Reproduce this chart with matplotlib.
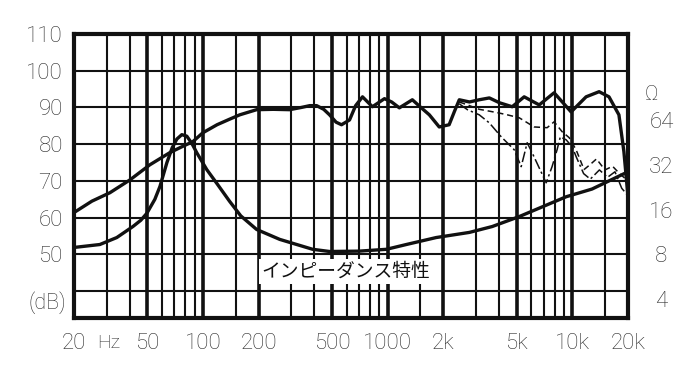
import numpy as np
import matplotlib
matplotlib.use('Agg')
import matplotlib.pyplot as plt
import matplotlib.transforms as mtransforms

# ---- data ----
main_freq = [20, 25, 31.3, 40.2, 51.5, 66, 76.7, 88, 99.6, 119, 139, 158, 195, 240, 294, 340,
             378, 412, 450, 484, 525, 562, 621, 670, 730, 826, 960, 1050, 1156, 1359, 1520,
             1680, 1900, 2150, 2300, 2440, 2770, 3130, 3550, 4020, 4720, 5480, 6610, 7960,
             9840, 11860, 13950, 15780, 17860, 19000, 20000]
main_db = [61.4, 64.5, 66.8, 70.3, 74.4, 77.7, 79.3, 80.7, 83.1, 85.3, 86.8, 88.0, 89.4, 89.5,
           89.4, 90.0, 90.5, 90.5, 89.5, 88.0, 86.0, 85.3, 86.6, 90.5, 92.9, 90.2, 92.4, 91.5,
           89.9, 92.1, 89.9, 88.0, 84.7, 85.3, 89.0, 92.1, 91.5, 92.1, 92.6, 91.3, 90.2, 92.9,
           90.7, 94.0, 88.8, 92.9, 94.3, 92.9, 88.0, 78.0, 65.7]

imp_freq = [20, 27.6, 34.1, 41.7, 46, 49.6, 54.8, 58.4, 63.7, 68, 72.1, 76.7, 81.6, 87, 92.4,
            104.7, 120, 139, 160, 195, 260, 392, 484, 700, 984, 1260, 1830, 2770, 3680, 5150,
            9250, 12770, 20000]
imp_db = [51.9, 52.7, 54.6, 57.6, 59.3, 61.2, 65.0, 68.5, 75.0, 79.0, 81.4, 82.6, 82.2, 80.2,
          77.7, 73.1, 69.0, 64.5, 60.5, 56.8, 54.1, 51.4, 50.8, 50.9, 51.4, 52.7, 54.6, 56.0,
          57.6, 60.3, 65.7, 67.8, 72.5]

off1_freq = [2440, 2770, 3130, 3550, 4000, 4440, 5150, 6210, 7300, 7960, 8800, 9600, 10470,
             11560, 12500, 13500, 15000, 16500, 18000, 20000]
off1_db = [91.5, 90.5, 89.5, 89.0, 88.5, 88.0, 87.2, 84.7, 84.5, 86.1, 83.4, 81.8, 78.5,
           73.1, 74.5, 76.0, 73.0, 74.0, 72.0, 70.0]

off2_freq = [2440, 2700, 3130, 3550, 4120, 4840, 5280, 5690, 6050, 7210, 7760, 8260, 8600,
             9250, 9970, 10500, 11500, 12500, 14000, 15500, 17000, 18500, 20000]
off2_db = [91.0, 89.4, 88.0, 85.8, 82.0, 78.5, 73.9, 80.4, 77.7, 69.5, 73.9, 78.5, 82.0,
           81.2, 79.3, 76.5, 72.0, 70.5, 73.0, 71.0, 72.5, 68.0, 66.0]

major_ticks = [20, 50, 100, 200, 500, 1000, 2000, 5000, 10000, 20000]
major_labels = ['20', '50', '100', '200', '500', '1000', '2k', '5k', '10k', '20k']
minor_ticks = [30, 40, 60, 70, 80, 90, 150, 300, 400, 600, 700, 800, 900, 1500,
               3000, 4000, 6000, 7000, 8000, 9000, 15000]
db_ticks = [40, 50, 60, 70, 80, 90, 100, 110]
db_labels = ['', '50', '60', '70', '80', '90', '100', '110']
ohm_ticks = [4, 8, 16, 32, 64]
ohm_labels = ['4', '8', '16', '32', '64']
imp_label = 'インピーダンス特性'

# ---- style ----
plt.rcParams['font.family'] = ['Roboto', 'DejaVu Sans']
INK = '#111111'
TXT = '#2a2a2a'

W, H = 687, 384
fig = plt.figure(figsize=(W / 100, H / 100), dpi=100)
x0, x1, y0, y1 = 74, 628, 34, 318
ax = fig.add_axes([x0 / W, 1 - y1 / H, (x1 - x0) / W, (y1 - y0) / H])
ax.set_xscale('log')
ax.set_xlim(20, 20000)
ax.set_ylim(32.7, 110)

ax.set_xticks(major_ticks)
ax.set_xticklabels(major_labels)
ax.set_xticks(minor_ticks, minor=True)
ax.set_xticklabels([], minor=True)
ax.set_yticks(db_ticks)
ax.set_yticklabels(db_labels)
ax.set_yticks([], minor=True)

ax.tick_params(axis='both', which='both', length=0)
ax.tick_params(axis='x', pad=11, labelsize=16, labelcolor=TXT)
ax.tick_params(axis='y', pad=8, labelsize=16, labelcolor=TXT)
for lbl in ax.get_xticklabels() + ax.get_yticklabels():
    lbl.set_fontweight('light')

ax.grid(True, which='major', axis='x', color=INK, lw=2.6)
ax.grid(True, which='minor', axis='x', color=INK, lw=1.5)
ax.grid(True, which='major', axis='y', color=INK, lw=1.5)
ax.set_axisbelow(True)
for s in ax.spines.values():
    s.set_linewidth(3.0)
    s.set_color(INK)

# curves
ax.plot(main_freq, main_db, color=INK, lw=2.4, solid_joinstyle='round', solid_capstyle='round', zorder=4)
ax.plot(imp_freq, imp_db, color=INK, lw=2.4, solid_joinstyle='round', solid_capstyle='round', zorder=4)
ax.plot(off1_freq, off1_db, color=INK, lw=1.1, ls=(0, (4, 2.5)), zorder=3)
ax.plot(off2_freq, off2_db, color=INK, lw=1.1, ls=(0, (7, 2, 1.5, 2)), zorder=3)

# Hz and (dB) labels
ax.annotate('Hz', xy=(20, 0), xycoords=('data', 'axes fraction'), xytext=(23, -25),
            textcoords='offset pixels', ha='left', va='center', fontsize=14,
            color=TXT, fontweight='light')
trans_y = mtransforms.blended_transform_factory(ax.transAxes, ax.transData)
ax.text(-0.015, 37.0, '(dB)', transform=trans_y, ha='right', va='center', fontsize=15.5,
        color=TXT, fontweight='light')

# right impedance axis
def db2ohm(d):
    return 8 * 2 ** ((np.asarray(d, dtype=float) - 50) / 12.2)

def ohm2db(o):
    o = np.clip(np.asarray(o, dtype=float), 1e-6, None)
    return 50 + 12.2 * np.log2(o / 8)

sec = ax.secondary_yaxis('right', functions=(db2ohm, ohm2db))
sec.set_yticks(ohm_ticks)
sec.set_yticklabels(ohm_labels)
sec.tick_params(length=0, pad=24, labelsize=16, labelcolor=TXT)
sec.set_yticks([], minor=True)
for lbl in sec.get_yticklabels():
    lbl.set_horizontalalignment('center')
    lbl.set_fontweight('light')
sec.spines['right'].set_visible(False)
ax.annotate('Ω', xy=(1, 93.4), xycoords=trans_y, xytext=(24, 0), textcoords='offset pixels',
            ha='center', va='center', fontsize=15, color=TXT, fontweight='light')

# impedance caption
ax.text(590, 45.3, imp_label, ha='center', va='center', fontsize=13.5, color=INK,
        family=['Noto Sans CJK JP', 'DejaVu Sans'],
        bbox=dict(facecolor='white', edgecolor='none', pad=1.5), zorder=5)

fig.savefig('out.png', dpi=100)
